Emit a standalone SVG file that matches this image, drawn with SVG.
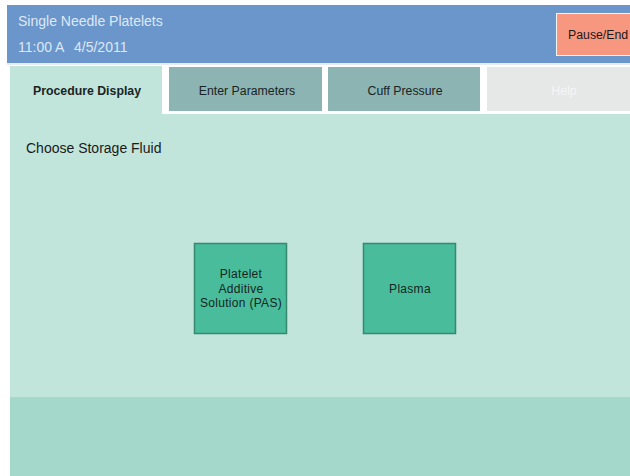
<svg xmlns="http://www.w3.org/2000/svg" width="630" height="476" viewBox="0 0 630 476">
  <style>
    text { font-family: "Liberation Sans", Arial, sans-serif; }
    .hdr { fill: #dfe8f4; font-size: 14px; }
    .tab { fill: #8cb4b2; }
    .tabtxt { fill: #1a2424; font-size: 12.3px; text-anchor: middle; }
    .choice rect { fill: #49bd9b; stroke: #35896f; stroke-width: 1.5; }
    .choice text { fill: #14261f; font-size: 12px; letter-spacing: 0.3px; text-anchor: middle; }
  </style>
  <rect x="0" y="0" width="630" height="476" fill="#ffffff"/>

  <!-- header bar -->
  <g id="header">
    <rect x="7" y="5" width="623" height="58" fill="#6a96cc"/>
    <rect x="7" y="63" width="623" height="2" fill="#e8ecef"/>
    <text class="hdr" x="18" y="26">Single Needle Platelets</text>
    <text class="hdr" x="18" y="52">11:00 A</text>
    <text class="hdr" x="74" y="52">4/5/2011</text>
  </g>
  <g id="pause-end">
    <rect x="556.5" y="13.5" width="80" height="42" fill="#f7977f" stroke="#f4f4f4" stroke-width="1"/>
    <text x="568" y="39" font-size="12.3" fill="#1a1a1a">Pause/End</text>
  </g>

  <!-- content area -->
  <rect id="content" x="10" y="66" width="620" height="331" fill="#c1e5db"/>
  <rect x="162" y="66" width="468" height="48" fill="#ffffff"/>
  <rect id="footer" x="10" y="397" width="620" height="79" fill="#a3d8cb"/>

  <!-- tabs -->
  <g id="tab-procedure">
    <text class="tabtxt" x="87" y="94.5" font-weight="bold" font-size="11.6">Procedure Display</text>
  </g>
  <g id="tab-parameters">
    <rect class="tab" x="169" y="67" width="153" height="44"/>
    <text class="tabtxt" x="247" y="94.5">Enter Parameters</text>
  </g>
  <g id="tab-cuff">
    <rect class="tab" x="328" y="67" width="152" height="44"/>
    <text class="tabtxt" x="405" y="94.5">Cuff Pressure</text>
  </g>
  <g id="tab-help">
    <rect x="487" y="67" width="143" height="44" fill="#e6e7e7"/>
    <text class="tabtxt" x="564" y="94.5" style="fill:#f6f6f6">Help</text>
  </g>

  <text x="26" y="153" font-size="14" fill="#1a1a1a">Choose Storage Fluid</text>

  <!-- storage fluid choices -->
  <g id="choice-pas" class="choice">
    <rect x="194.5" y="243.5" width="92" height="90"/>
    <text x="241" y="278">Platelet</text>
    <text x="241" y="293">Additive</text>
    <text x="241" y="307">Solution (PAS)</text>
  </g>
  <g id="choice-plasma" class="choice">
    <rect x="363.5" y="243.5" width="92" height="90"/>
    <text x="410" y="293">Plasma</text>
  </g>

  <g id="connectors"/>
</svg>
